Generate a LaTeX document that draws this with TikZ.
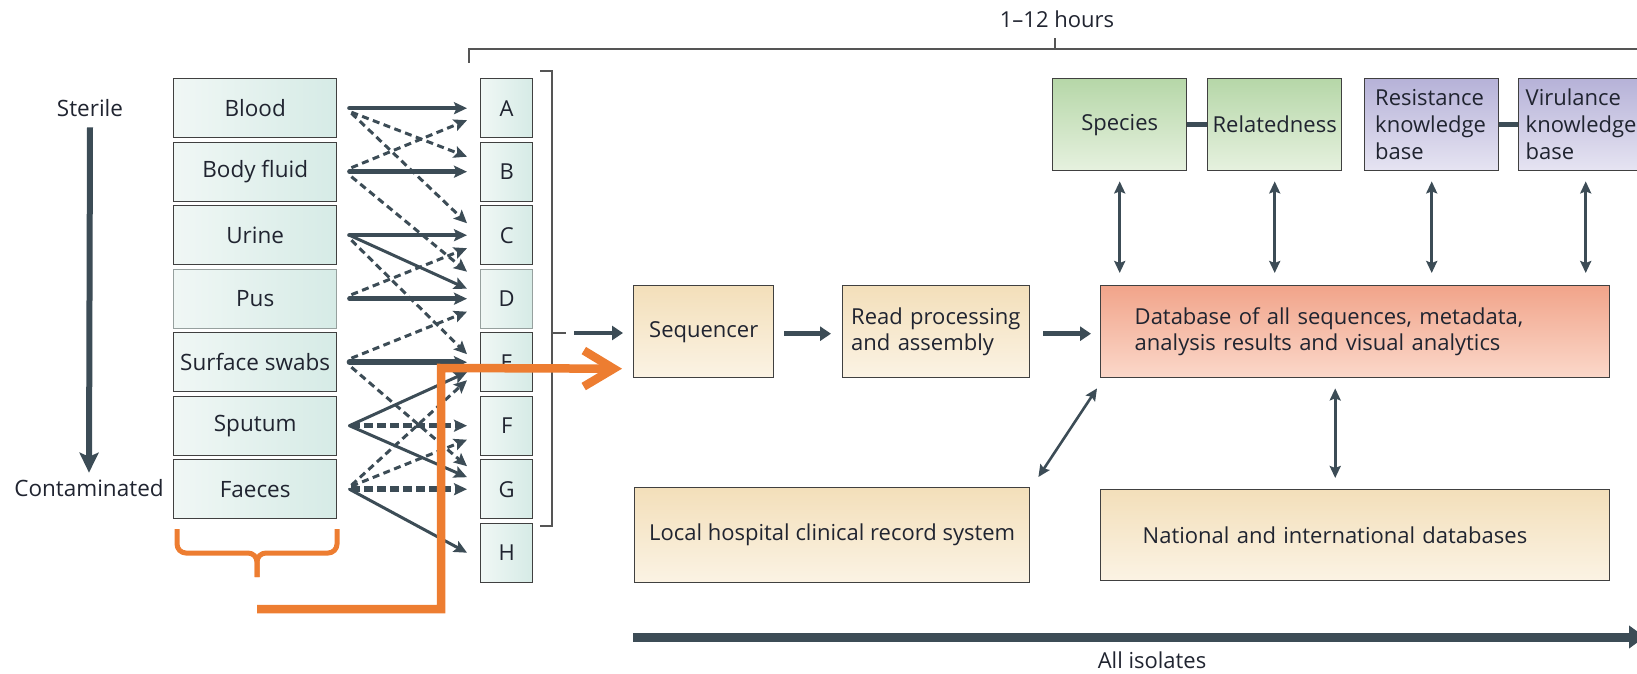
\documentclass[tikz,border=0pt]{standalone}
\usepackage{fontspec}
\setmainfont{Open Sans}
\usetikzlibrary{arrows.meta,calc}
\hyphenpenalty=10000
\exhyphenpenalty=10000
\definecolor{ink}{RGB}{60,76,86}
\definecolor{txt}{RGB}{32,36,48}
\definecolor{bord}{RGB}{64,64,64}
\definecolor{lbord}{RGB}{150,160,158}
\definecolor{orng}{RGB}{237,125,49}
\definecolor{tealL}{RGB}{240,247,245}
\definecolor{tealR}{RGB}{214,235,230}
\definecolor{grT}{RGB}{182,215,168}
\definecolor{grB}{RGB}{230,241,223}
\definecolor{puT}{RGB}{182,178,216}
\definecolor{puB}{RGB}{230,228,242}
\definecolor{beT}{RGB}{243,223,186}
\definecolor{beB}{RGB}{251,243,228}
\definecolor{dbT}{RGB}{241,164,138}
\definecolor{dbB}{RGB}{251,216,202}
\definecolor{rulec}{RGB}{85,85,85}
\tikzset{
 src/.style={draw=bord, line width=1.4pt, left color=tealL, right color=tealR, minimum width=163pt, minimum height=59pt, anchor=north west, inner sep=0pt, font=\fontsize{22.5}{26}\selectfont, text=txt},
 lett/.style={src, minimum width=52pt, font=\fontsize{22}{26}\selectfont},
 rbox/.style={draw=bord, line width=1.4pt, anchor=north west, inner sep=0pt, font=\fontsize{22}{26}\selectfont, text=txt},
 beigebox/.style={rbox, top color=beT, bottom color=beB},
 spbox/.style={rbox, top color=grT, bottom color=grB, minimum width=134pt, minimum height=92pt},
 kbbox/.style={rbox, top color=puT, bottom color=puB, minimum width=134pt, minimum height=92pt, font=\fontsize{22}{27}\selectfont},
 lbl/.style={inner sep=0pt, font=\fontsize{22.5}{26}\selectfont, text=txt},
 tipS/.style={-{Stealth[length=13pt,width=12pt,inset=2.5pt]}},
 sol/.style={draw=ink, line width=4.5pt, line cap=round, tipS},
 diag/.style={draw=ink, line width=3pt, line cap=round, tipS},
 dsh/.style={draw=ink, line width=3pt, dash pattern=on 7pt off 4.5pt, tipS},
 dshb/.style={draw=ink, line width=4.5pt, dash pattern=on 9pt off 4pt, tipS},
 dshbb/.style={draw=ink, line width=6pt, dash pattern=on 9pt off 4pt, tipS},
 flow/.style={draw=ink, line width=4.5pt, -{Triangle[length=11pt,width=14pt]}},
 dbl/.style={draw=ink, line width=2.6pt, {Stealth[length=12pt,width=11pt,inset=2pt]}-{Stealth[length=12pt,width=11pt,inset=2pt]}},
 link/.style={draw=ink, line width=5pt},
 guide/.style={draw=rulec, line width=1.5pt},
 annot/.style={draw=orng, line width=8.5pt},
 bracestyle/.style={draw=orng, line width=5pt, rounded corners=9pt},
}
\begin{document}
\begin{tikzpicture}[x=1pt,y=-1pt]
\useasboundingbox (0,0) rectangle (1637,674);
% left scale
\node[lbl, anchor=base] (sterile) at (90,117) {Sterile};
\node[lbl, anchor=base] (contam) at (89,496) {Contaminated};
\draw[ink, line width=6pt, -{Stealth[length=20pt,width=19pt,inset=4pt]}] ($(sterile.south)+(0,10)$) -- ($(contam.north)+(0,-6)$);
% source boxes
\node[src] (blood) at (173,78) {Blood};
\node[src] (body) at (173,141.5) {Body fluid};
\node[src] (urine) at (173,205) {Urine};
\node[src, draw=lbord] (pus) at (173,268.5) {Pus};
\node[src] (swabs) at (173,332) {Surface swabs};
\node[src] (sputum) at (173,395.5) {Sputum};
\node[src] (faeces) at (173,459) {Faeces};
% letter boxes
\node[lett] (A) at (480,78) {A};
\node[lett] (B) at (480,141.5) {B};
\node[lett] (C) at (480,205) {C};
\node[lett, draw=lbord] (D) at (480,268.5) {D};
\node[lett] (E) at (480,332) {E};
\node[lett] (F) at (480,395.5) {F};
\node[lett] (G) at (480,459) {G};
\node[lett] (H) at (480,522.5) {H};
% source -> letter arrows
\draw[sol] ($(blood.east)+(12,0)$) -- ($(A.west)+(-13,0)$);
\draw[dsh] ($(blood.east)+(14,4)$) -- ($(B.west)+(-13,-15)$);
\draw[dsh] ($(blood.east)+(14,5)$) -- ($(C.west)+(-13,-12)$);
\draw[sol] ($(body.east)+(12,0)$) -- ($(B.west)+(-13,0)$);
\draw[dsh] ($(body.east)+(14,-4)$) -- ($(A.west)+(-13,12)$);
\draw[dsh] ($(body.east)+(14,5)$) -- ($(D.west)+(-13,-27)$);
\draw[sol] ($(urine.east)+(12,0)$) -- ($(C.west)+(-13,0)$);
\draw[diag] ($(urine.east)+(12,0)$) -- ($(D.west)+(-13,-10)$);
\draw[dsh] ($(urine.east)+(14,5)$) -- ($(E.west)+(-13,-8)$);
\draw[sol] ($(pus.east)+(12,0)$) -- ($(D.west)+(-13,0)$);
\draw[dsh] ($(pus.east)+(14,-4)$) -- ($(C.west)+(-13,13)$);
\draw[sol, line width=5.5pt] ($(swabs.east)+(12,0)$) -- ($(E.west)+(-13,0)$);
\draw[dsh] ($(swabs.east)+(14,-4)$) -- ($(D.west)+(-13,13)$);
\draw[dsh] ($(swabs.east)+(14,5)$) -- ($(G.west)+(-13,-23)$);
\draw[diag] ($(sputum.east)+(12,0)$) -- ($(E.west)+(-13,10)$);
\draw[dshb] ($(sputum.east)+(14,0)$) -- ($(F.west)+(-13,0)$);
\draw[diag] ($(sputum.east)+(12,0)$) -- ($(G.west)+(-13,-12)$);
\draw[dsh] ($(faeces.east)+(14,-4)$) -- ($(E.west)+(-13,18)$);
\draw[dsh] ($(faeces.east)+(14,-3)$) -- ($(F.west)+(-13,14)$);
\draw[dshbb] ($(faeces.east)+(14,0)$) -- ($(G.west)+(-13,0)$);
\draw[diag] ($(faeces.east)+(12,0)$) -- ($(H.west)+(-13,0)$);
% bracket
\draw[guide] (540,71) -- (552,71) -- (552,526) -- (540,526);
\coordinate (brk) at (552,333);
\draw[guide] (brk) -- ++(14,0);
% timeline
\node[lbl, font=\fontsize{22}{26}\selectfont, anchor=base] (hours) at (1057,28) {1–12 hours};
\draw[guide] (469,63) -- (469,49) -- (1645,49);
\coordinate (tl) at (1055,49);
\draw[guide] (tl) -- ++(0,-11);
% pipeline boxes
\node[beigebox, minimum width=140pt, minimum height=92pt] (seq) at (633,285) {Sequencer};
\node[beigebox, minimum width=187pt, minimum height=92pt, align=left, text width=170pt] (read) at (842,285) {Read processing\\and assembly};
\node[rbox, top color=dbT, bottom color=dbB, minimum width=509pt, minimum height=92pt, align=left, text width=441pt] (db) at (1100,285) {Database of all sequences, metadata,\\analysis results and visual analytics};
\node[beigebox, minimum width=395pt, minimum height=95pt] (local) at (634,487) {Local hospital clinical record system};
\node[beigebox, minimum width=509pt, minimum height=91pt, align=left, text width=425pt] (natl) at (1100,489) {National and international databases};
% top boxes
\node[spbox] (species) at (1052,78) {Species};
\node[spbox] (related) at (1207,78) {Relatedness};
\node[kbbox, align=left, text width=113pt] (resist) at (1364,78) {Resistance\\knowledge\\base};
\node[kbbox, align=left, text width=120pt] (viru) at (1518,78) {Virulance\\knowledge\\base};
\draw[link] (species.east) -- (related.west);
\draw[link] (resist.east) -- (viru.west);
\foreach \n in {species,related,resist,viru}
  \draw[dbl] ($(\n.south)+(0,10)$) -- ($(\n.south |- db.north)+(0,-12)$);
\draw[dbl] ($(db.south west)+(-3,10)$) -- ($(local.north east)+(8,-10)$);
\draw[dbl] ($(db.south)+(-20,10)$) -- ($(db.south |- natl.north)+(-20,-11)$);
% flow arrows
\draw[flow] ($(brk)+(22,0)$) -- ($(brk -| seq.west)+(-10,0)$);
\draw[flow] ($(seq.east)+(10,2)$) -- ($(read.west)+(-11,2)$);
\draw[flow] ($(read.east)+(13,2)$) -- ($(db.west)+(-9,2)$);
% all isolates
\coordinate (isoS) at (633,637);
\coordinate (isoE) at (1645,637);
\draw[ink, line width=9pt, -{Triangle[length=16pt,width=22pt]}] (isoS) -- (isoE);
\node[lbl, anchor=base, font=\fontsize{22}{26}\selectfont] (iso) at (1152,668) {All isolates};
% orange annotation
\draw[bracestyle] (177,529) -- (177,553) -- (257,553) -- (257,577);
\draw[bracestyle] (337,529) -- (337,553) -- (257,553) -- (257,577);
\coordinate (os) at (257,609);
\draw[annot, -{Straight Barb[length=30pt,width=36pt]}] (os) -- (441,609) -- (441,368) -- ($(seq.west)+(-11,37)$);
\end{tikzpicture}
\end{document}
